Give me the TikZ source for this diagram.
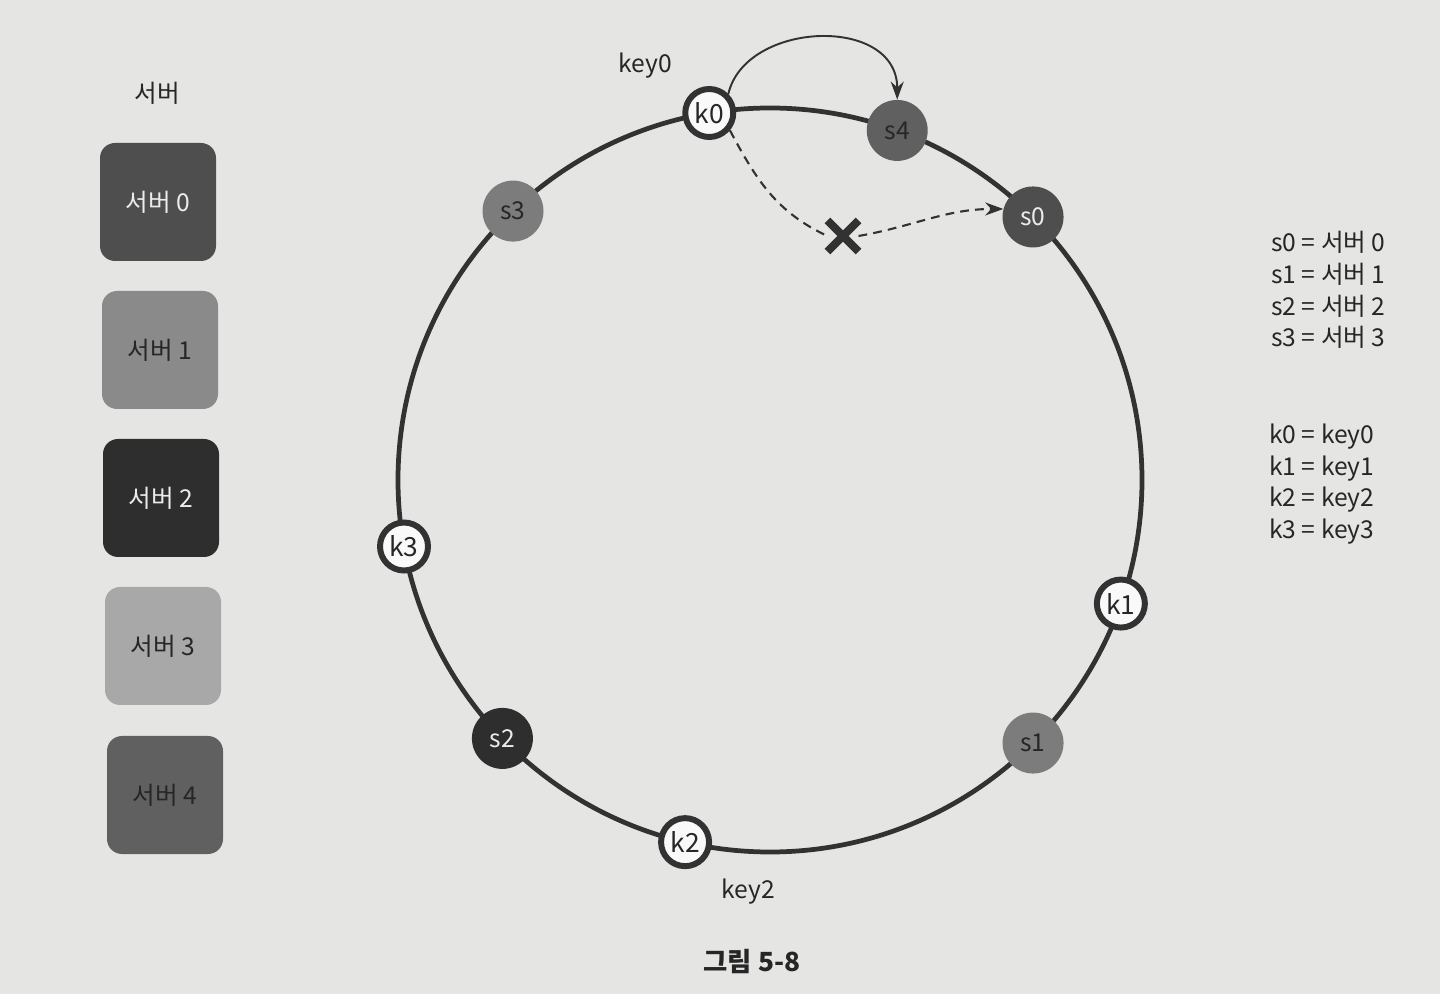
\documentclass[tikz,border=0pt]{standalone}
\usepackage{fontspec}
\setmainfont{Noto Sans CJK KR}
\usetikzlibrary{positioning}
\usetikzlibrary{arrows.meta}
\usetikzlibrary{shapes.misc}
\definecolor{papercol}{RGB}{229,230,228}
\definecolor{ringc}{RGB}{50,50,50}
\definecolor{textc}{RGB}{38,38,38}
\definecolor{serv0c}{RGB}{78,78,78}
\definecolor{serv1c}{RGB}{138,138,138}
\definecolor{serv2c}{RGB}{46,46,46}
\definecolor{serv3c}{RGB}{168,168,168}
\definecolor{serv4c}{RGB}{96,96,96}
\colorlet{lighttext}{white!85!gray}

\begin{document}
\begin{tikzpicture}[x=1cm,y=1cm,
  every node/.style={text=textc, font=\fontsize{14}{18}\selectfont},
  keynode/.style={circle, draw=ringc, line width=3.4pt, fill=white!75!papercol, minimum size=0.96cm, inner sep=0pt, font=\fontsize{15}{18}\selectfont},
  servnode/.style={circle, minimum size=1.22cm, inner sep=0pt, font=\fontsize{14}{16}\selectfont},
  servbox/.style={rounded corners=0.3cm, minimum width=2.32cm, minimum height=2.36cm},
  hop/.style={-{Stealth[length=0.36cm,width=0.26cm]}, line width=1.1pt, ringc}]
\fill[papercol] (0,0) rectangle (28.8,19.88);
\useasboundingbox (0,0) rectangle (28.8,19.88);

% server legend
\node (servtitle) at (3.14,18.02) {서버};
\node[servbox, fill=serv0c, text=lighttext] (box0) at (3.16,15.84) {서버 0};
\node[servbox, fill=serv1c] (box1) at (3.20,12.88) {서버 1};
\node[servbox, fill=serv2c, text=lighttext] (box2) at (3.22,9.92) {서버 2};
\node[servbox, fill=serv3c] (box3) at (3.26,6.96) {서버 3};
\node[servbox, fill=serv4c] (box4) at (3.30,3.98) {서버 4};

% hash ring
\draw[ringc, line width=2.7pt] (15.4,10.28) circle (7.44cm);
\begin{scope}[shift={(15.4,10.28)}]
\node[servnode, fill=serv4c, text=textc] (s4) at (70:7.44) {s4};
\node[servnode, fill=serv0c, text=lighttext] (s0) at (45:7.44) {s0};
\node[servnode, fill=serv1c!90!black] (s1) at (-45:7.44) {s1};
\node[servnode, fill=serv2c, text=lighttext] (s2) at (224:7.44) {s2};
\node[servnode, fill=serv1c!90!black] (s3) at (133.7:7.44) {s3};
\node[keynode] (k0) at (99.4:7.44) {k0};
\node[keynode] (k1) at (-19.4:7.44) {k1};
\node[keynode] (k2) at (256.8:7.44) {k2};
\node[keynode] (k3) at (190.3:7.44) {k3};
\end{scope}

\node (key0) at (12.9,18.56) {key0};
\node (key2) at (14.96,2.04) {key2};

% removed server
\node[cross out, draw=ringc, line width=4.6pt, minimum size=0.46cm, inner sep=0pt] (lost) at (16.86,15.16) {};

\draw[hop] (k0.45) .. controls +(77:1.5) and +(90:1.7) .. (s4.north);
\draw[ringc, line width=1.2pt, dash pattern=on 5pt off 3.5pt] (k0.-40) to[out=-62,in=155] (lost.west);
\draw[hop, line width=1.2pt, dash pattern=on 5pt off 3.5pt] (lost.east) to[out=10,in=180] (s0.165);

% mapping lists
\node[align=left, anchor=west] (servlist) at (25.3,14.08)
{s0 = 서버 0\\ s1 = 서버 1\\ s2 = 서버 2\\ s3 = 서버 3};
\node[align=left, anchor=west] (keylist) at (25.26,10.2)
{k0 = key0\\ k1 = key1\\ k2 = key2\\ k3 = key3};

\node[font=\bfseries\fontsize{15}{18}\selectfont] (caption) at (15.04,0.64) {그림 5-8};
\end{tikzpicture}
\end{document}
